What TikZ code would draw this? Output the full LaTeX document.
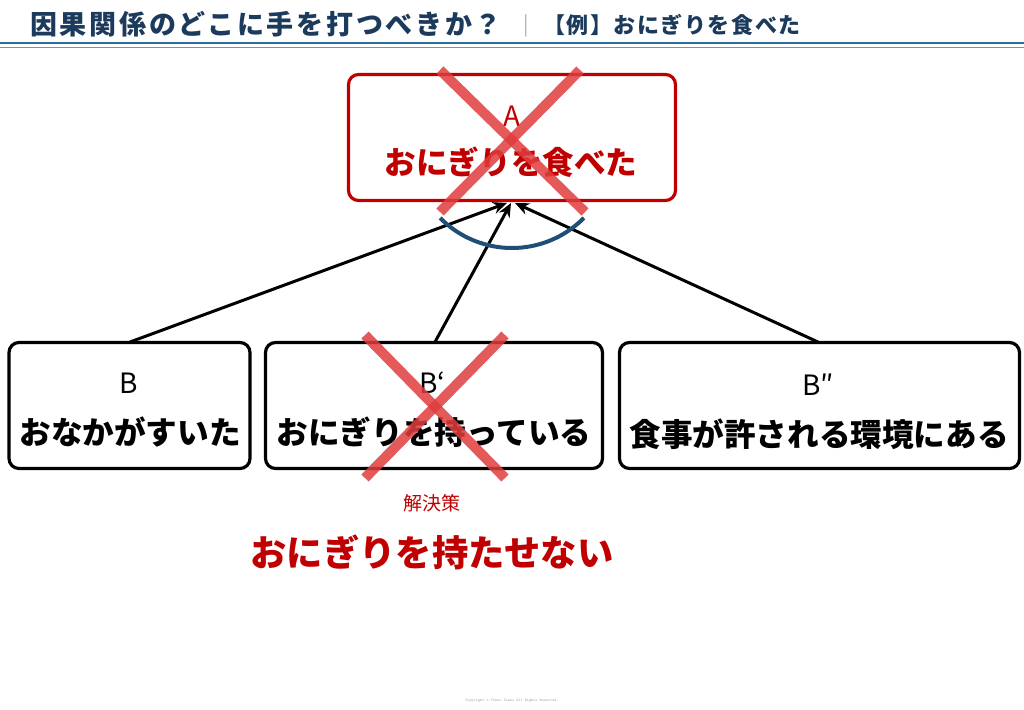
\documentclass[tikz,border=0pt]{standalone}
\usepackage{fontspec}
\newfontfamily\jp{Noto Sans CJK JP}
\newfontfamily\jptitle{Noto Sans CJK JP}[LetterSpace=10]
\newfontfamily\jpsub{Noto Sans CJK JP}[LetterSpace=7]
\usetikzlibrary{arrows.meta}
\definecolor{navy}{HTML}{1B3A5C}
\definecolor{lineblue}{HTML}{2E6E9A}
\definecolor{lineblue2}{HTML}{5A9CC4}
\definecolor{redtxt}{HTML}{C00000}
\definecolor{crossred}{HTML}{E03C3C}
\definecolor{arcblue}{HTML}{1F4E79}
\tikzset{
  box/.style={draw, rounded corners=10pt, line width=3.2pt, inner sep=0pt},
  crossline/.style={draw=crossred, opacity=0.85, line width=10pt},
  arr/.style={draw=black, line width=3pt, -{Stealth[length=14pt,width=12pt]}},
  lbl/.style={font=\jp\fontsize{28}{32}\selectfont, inner sep=0pt},
  big/.style={font=\jp\bfseries\fontsize{31.6}{36}\selectfont, inner sep=0pt},
}
\begin{document}
\begin{tikzpicture}[x=1pt,y=-1pt]
\useasboundingbox[fill=white] (0,0) rectangle (1024,709);
% header
\node[anchor=west, inner sep=0pt, text=navy, font=\jptitle\bfseries\fontsize{27}{30}\selectfont] (title) at (30,24) {因果関係のどこに手を打つべきか？};
\node[inner sep=0pt, text=gray!60, font=\jp\fontsize{20}{24}\selectfont] (sep) at (526,26) {|};
\node[anchor=west, inner sep=0pt, text=navy, font=\jpsub\bfseries\fontsize{22}{26}\selectfont] (sub) at (543,25) {【例】おにぎりを食べた};
\draw[lineblue, line width=2.5pt] (0,43) coordinate (l1) -- (1024,43) coordinate (l2);
\draw[lineblue2, line width=1.8pt] (0,47.5) coordinate (l3) -- (1024,47.5) coordinate (l4);
% boxes
\node[box, draw=redtxt, minimum width=327pt, minimum height=126pt] (A) at (512,137.5) {};
\node[lbl, text=redtxt] (Al) at (512,116) {A};
\node[big, text=redtxt] (At) at (511,162) {おにぎりを食べた};
\node[box, minimum width=241pt, minimum height=126pt] (B) at (129.5,405.5) {};
\node[lbl] (Bl) at (129,383) {B};
\node[big] (Bt) at (130,432) {おなかがすいた};
\node[box, minimum width=337pt, minimum height=126pt] (B1) at (434,405.5) {};
\node[lbl] (B1l) at (432,383) {B‘};
\node[big] (B1t) at (434,432) {おにぎりを持っている};
\node[box, minimum width=400pt, minimum height=126pt] (B2) at (819.5,405.5) {};
\node[lbl] (B2l) at (818,385) {B″};
\node[big] (B2t) at (819,434) {食事が許される環境にある};
% arrows
\coordinate (tA1) at (507,203);
\coordinate (tA2) at (511,203);
\coordinate (tA3) at (515,203);
\coordinate (sB) at (130,342);
\coordinate (sB1) at (435,342);
\coordinate (sB2) at (818,342);
\draw[arr] (sB) -- (tA1);
\draw[arr] (sB1) -- (tA2);
\draw[arr] (sB2) -- (tA3);
% arc
\draw[arcblue, line width=4pt] (512,147) ++(135.4:101) arc[start angle=135.4, end angle=44.6, radius=101];
% crosses
\draw[crossline] (440,70) coordinate (xa1) -- (585,212) coordinate (xa2);
\draw[crossline] (580,70) coordinate (xa3) -- (440,212) coordinate (xa4);
\draw[crossline] (365,335) coordinate (xb1) -- (505,478) coordinate (xb2);
\draw[crossline] (505,335) coordinate (xb3) -- (365,478) coordinate (xb4);
% solution
\node[inner sep=0pt, text=redtxt, font=\jp\fontsize{19}{22}\selectfont] (sol) at (432,503) {解決策};
\node[inner sep=0pt, text=redtxt, font=\jp\bfseries\fontsize{36.3}{40}\selectfont] (solt) at (432,552) {おにぎりを持たせない};
% copyright
\node[inner sep=0pt, text=gray!70, font=\fontsize{4}{5}\selectfont\ttfamily] (copy) at (512,701) {Copyright \textcopyright{} Takao Iwano All Rights Reserved.};
\end{tikzpicture}
\end{document}
